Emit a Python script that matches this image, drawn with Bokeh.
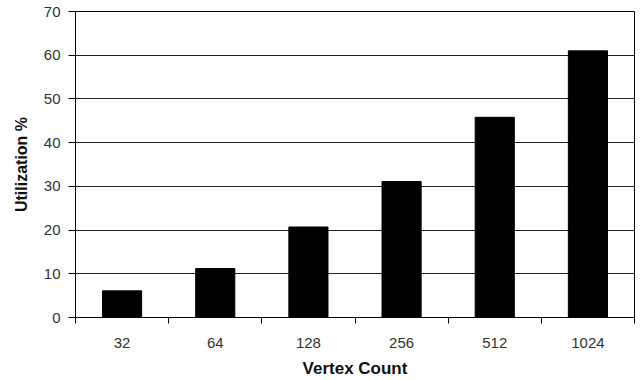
from bokeh.plotting import figure
from bokeh.models import FixedTicker, Range1d, ColumnDataSource
from bokeh.embed import file_html
from bokeh.resources import INLINE

categories = ["32", "64", "128", "256", "512", "1024"]
utilization = [6.1, 11.2, 20.7, 31.1, 45.8, 61.0]
y_ticks = [0, 10, 20, 30, 40, 50, 60, 70]

centers = [i + 0.5 for i in range(len(categories))]
bounds = list(range(len(categories) + 1))

src = ColumnDataSource(dict(x=centers, top=utilization))

p = figure(width=640, height=380, output_backend="svg", toolbar_location=None,
           x_range=Range1d(0, len(categories)), y_range=Range1d(0, 70),
           min_border_left=75, min_border_right=6, min_border_top=11, min_border_bottom=63)

p.vbar(x="x", top="top", width=0.42, bottom=0, source=src, color="black")

p.outline_line_color = "black"
p.outline_line_width = 1
p.outline_line_alpha = 1
p.background_fill_color = "white"
p.border_fill_color = "white"

p.xgrid.visible = False
p.ygrid.grid_line_color = "#222222"
p.ygrid.grid_line_width = 1
p.ygrid.grid_line_alpha = 1

xa = p.xaxis[0]
xa.ticker = FixedTicker(ticks=centers, minor_ticks=bounds)
xa.major_label_overrides = {c: lab for c, lab in zip(centers, categories)}
xa.major_tick_out = 0
xa.major_tick_in = 0
xa.minor_tick_out = 6
xa.minor_tick_in = 0
xa.minor_tick_line_color = "black"
xa.axis_line_color = "black"
xa.major_label_standoff = 14
xa.major_label_text_font = "Liberation Sans"
xa.major_label_text_font_size = "15px"
xa.major_label_text_color = "#333333"
xa.axis_label = "Vertex Count"
xa.axis_label_text_font = "Liberation Sans"
xa.axis_label_text_font_size = "17px"
xa.axis_label_text_font_style = "bold"
xa.axis_label_text_color = "#111111"
xa.axis_label_standoff = 8

ya = p.yaxis[0]
ya.ticker = FixedTicker(ticks=y_ticks)
ya.minor_tick_line_color = None
ya.major_tick_out = 7
ya.major_tick_in = 0
ya.major_tick_line_color = "black"
ya.axis_line_color = "black"
ya.major_label_standoff = 8
ya.major_label_text_font = "Liberation Sans"
ya.major_label_text_font_size = "15px"
ya.major_label_text_color = "#333333"
ya.axis_label = "Utilization %"
ya.axis_label_text_font = "Liberation Sans"
ya.axis_label_text_font_size = "16px"
ya.axis_label_text_font_style = "bold"
ya.axis_label_text_color = "#111111"
ya.axis_label_standoff = 11

open("out.html", "w").write(file_html(p, INLINE))
